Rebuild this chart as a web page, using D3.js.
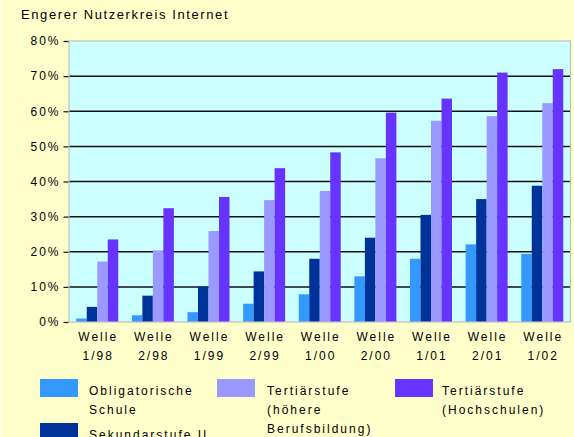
<!DOCTYPE html>
<html>
<head>
<meta charset="utf-8">
<script src="https://cdn.jsdelivr.net/npm/d3@7"></script>
<style>
  html, body { margin: 0; padding: 0; background: #FFFFCC; }
  svg { display: block; font-family: "Liberation Sans", Arial, sans-serif; }
</style>
</head>
<body>
<svg id="chart" width="574" height="437"></svg>
<script>
// Survey waves (x categories)
const waves = ["1/98", "2/98", "1/99", "2/99", "1/00", "2/00", "1/01", "2/01", "1/02"];

// Share of narrower internet user circle by education level, in percent
const obligatorisch = [1.0, 1.9, 2.8, 5.2, 7.9, 13.0, 18.0, 22.1, 19.4];
const sekundarII    = [4.3, 7.5, 10.1, 14.4, 18.0, 24.0, 30.5, 35.0, 38.8];
const tertHoehere   = [17.2, 20.4, 25.9, 34.7, 37.3, 46.6, 57.3, 58.6, 62.3];
const tertHoch      = [23.5, 32.4, 35.6, 43.8, 48.3, 59.6, 63.6, 71.0, 72.0];

const yTicks = [0, 10, 20, 30, 40, 50, 60, 70, 80];

const series = [
  { key: "oblig", values: obligatorisch, color: "#3399FF", label: ["Obligatorische", "Schule"] },
  { key: "sek",   values: sekundarII,    color: "#003399", label: ["Sekundarstufe II"] },
  { key: "hoeh",  values: tertHoehere,   color: "#9999FF", label: ["Tertiärstufe", "(höhere", "Berufsbildung)"] },
  { key: "hoch",  values: tertHoch,      color: "#6633FF", label: ["Tertiärstufe", "(Hochschulen)"] }
];

const svg = d3.select("#chart");
const plot = { left: 69, right: 570.5, top: 41, bottom: 322 };

// faint left edge strip
svg.append("rect").attr("x", 0).attr("y", 0).attr("width", 2).attr("height", 437).attr("fill", "#FFFFE8");

// Title
svg.append("text")
  .attr("x", 21).attr("y", 19)
  .attr("font-size", 13).attr("letter-spacing", 1.6)
  .attr("fill", "#000")
  .text("Engerer Nutzerkreis Internet");

const x = d3.scaleBand().domain(waves).range([plot.left, plot.right])
  .paddingInner(0.245).paddingOuter(0.13);
const xs = d3.scaleBand().domain(series.map(s => s.key)).range([0, x.bandwidth()]);
const y = d3.scaleLinear().domain([0, 80]).range([plot.bottom, plot.top]);

// Plot background
svg.append("rect")
  .attr("x", plot.left).attr("y", plot.top)
  .attr("width", plot.right - plot.left).attr("height", plot.bottom - plot.top)
  .attr("fill", "#CCFFFF");

// Gridlines
svg.append("g").selectAll("line")
  .data(yTicks.filter(t => t > 0 && t < 80))
  .join("line")
  .attr("x1", plot.left).attr("x2", plot.right)
  .attr("y1", d => y(d)).attr("y2", d => y(d))
  .attr("stroke", "#111").attr("stroke-width", 1.5);

// Bars
const groups = svg.append("g").selectAll("g")
  .data(waves)
  .join("g")
  .attr("transform", d => `translate(${x(d)},0)`);

groups.selectAll("rect")
  .data((w, i) => series.map(s => ({ key: s.key, color: s.color, v: s.values[i] })))
  .join("rect")
  .attr("x", d => xs(d.key))
  .attr("width", xs.bandwidth())
  .attr("y", d => y(d.v))
  .attr("height", d => y(0) - y(d.v))
  .attr("fill", d => d.color);

// Plot border
svg.append("rect")
  .attr("x", plot.left).attr("y", plot.top)
  .attr("width", plot.right - plot.left).attr("height", plot.bottom - plot.top)
  .attr("fill", "none").attr("stroke", "#BDBDC8").attr("stroke-width", 1.2);

// Y axis
const yAxis = d3.axisLeft(y).tickValues(yTicks).tickFormat(d => d + "%").tickSize(5).tickPadding(3);
const ya = svg.append("g").attr("transform", `translate(${plot.left - 0.5},0)`).call(yAxis);
ya.select(".domain").remove();
ya.selectAll(".tick line").attr("stroke", "#222").attr("stroke-width", 1.3);
ya.selectAll(".tick text")
  .attr("font-size", 12).attr("letter-spacing", 2)
  .attr("fill", "#000").attr("font-family", "Liberation Sans, Arial, sans-serif");

// X labels (two lines)
const xl = svg.append("g").selectAll("text")
  .data(waves)
  .join("text")
  .attr("text-anchor", "middle")
  .attr("font-size", 12).attr("letter-spacing", 2)
  .attr("fill", "#000");
xl.append("tspan").attr("x", d => x(d) + x.bandwidth() / 2 + 1).attr("y", 341).text("Welle");
xl.append("tspan").attr("x", d => x(d) + x.bandwidth() / 2 + 1).attr("y", 360).text(d => d);

// Legend
const legendPos = [
  { key: "oblig", sx: 40,  sy: 379, tx: 89 },
  { key: "sek",   sx: 40,  sy: 423, tx: 89 },
  { key: "hoeh",  sx: 217, sy: 379, tx: 267 },
  { key: "hoch",  sx: 395, sy: 379, tx: 442 }
];
const leg = svg.append("g").selectAll("g")
  .data(legendPos)
  .join("g");
leg.append("rect")
  .attr("x", d => d.sx).attr("y", d => d.sy)
  .attr("width", 38).attr("height", 18)
  .attr("fill", d => series.find(s => s.key === d.key).color);
leg.append("text")
  .attr("font-size", 12).attr("letter-spacing", 2)
  .attr("fill", "#000")
  .selectAll("tspan")
  .data(d => series.find(s => s.key === d.key).label.map((t, i) => ({ t, i, d })))
  .join("tspan")
  .attr("x", o => o.d.tx)
  .attr("y", o => o.d.sy + 16 + o.i * 19)
  .text(o => o.t);
</script>
</body>
</html>
